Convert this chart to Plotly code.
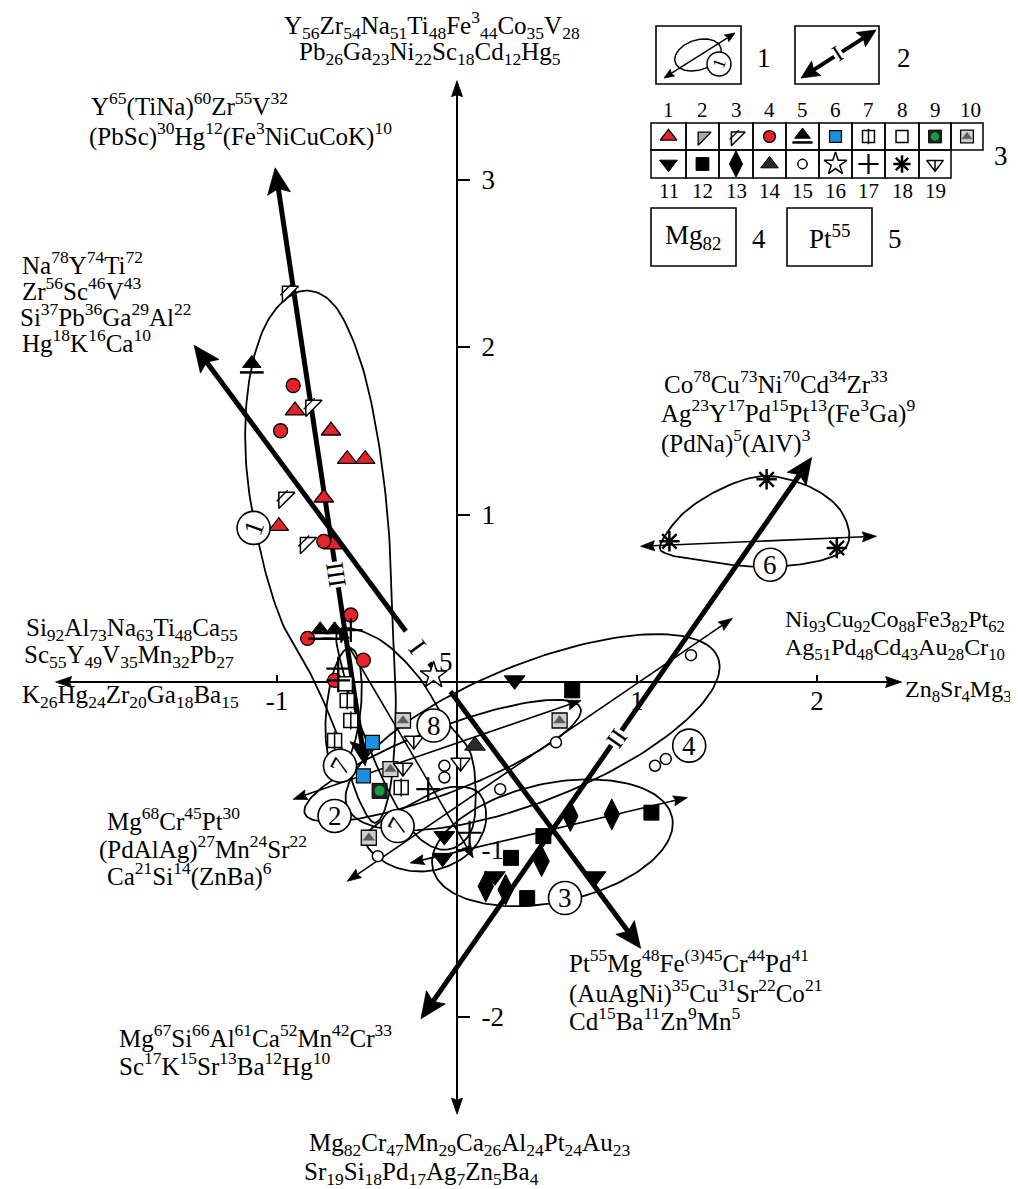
import math
import numpy as np
import plotly.graph_objects as go

# ---------------- canvas / scale geometry ----------------
W, H = 1018, 1189
X0, Y0 = 449.0, 674.0      # pixel position of the origin
SX, SY = 180.0, 167.5      # pixels per unit (x, y)
SERIF = "Liberation Serif, 'Times New Roman', Times, 'DejaVu Serif', serif"
XR = [-X0 / SX, (W - X0) / SX]
YR = [(Y0 - H) / SY, Y0 / SY]

# ---------------- data (factor-score units) ----------------
x_axis_ends = [-2.23, 2.47]
y_axis_ends = [-2.58, 3.59]
x_tickvals = [-1, 1, 2]
x_ticktext = ["-1", "1", "2"]
y_tickvals = [-2, -1, 1, 2, 3]
y_ticktext = ["-2", "-1", "1", "2", "3"]

# point groups (legend numbers 1..19)
g1_x = [-0.90, -0.70, -0.61, -0.51, -0.74, -0.99, -0.69]
g1_y = [1.62, 1.50, 1.33, 1.33, 1.10, 0.93, 0.82]
g3_x = [-0.94, -0.81, -0.96, -0.84]
g3_y = [2.33, 1.65, 1.10, 0.83]
g4_x = [-0.91, -0.98, -0.74, -0.59, -0.83, -0.52, -0.68]
g4_y = [1.77, 1.50, 0.84, 0.40, 0.26, 0.13, 0.01]
g5_x = [-1.14, -0.76, -0.68]
g5_y = [1.89, 0.30, 0.30]
g6_x = [-0.47, -0.52]
g6_y = [-0.36, -0.56]
g7_x = [-0.61, -0.59, -0.68, -0.31]
g7_y = [-0.11, -0.23, -0.35, -0.63]
g8_x = [-0.62]
g8_y = [-0.01]
g9_x = [-0.43]
g9_y = [-0.65]
g10_x = [-0.30, -0.37, -0.49, 0.57]
g10_y = [-0.23, -0.52, -0.93, -0.23]
g11_x = [0.32, -0.07, -0.08, 0.21, 0.77]
g11_y = [0.01, -0.92, -1.05, -1.16, -1.16]
g12_x = [0.64, 0.48, 0.30, 1.08, 0.39]
g12_y = [-0.05, -0.92, -1.05, -0.78, -1.29]
g13_x = [0.63, 0.86, 0.47, 0.16, 0.27]
g13_y = [-0.80, -0.79, -1.07, -1.22, -1.24]
g14_x = [0.10]
g14_y = [-0.38]
g15_x = [-0.07, -0.07, 0.24, 0.55, 1.10, 1.16, 1.30, -0.44]
g15_y = [-0.50, -0.57, -0.64, -0.36, -0.50, -0.46, 0.16, -1.04]
g16_x = [-0.13]
g16_y = [0.04]
g17_x = [-0.59, -0.66, -0.66, -0.16, 0.07]
g17_y = [0.31, 0.08, 0.01, -0.64, -0.90]
g18_x = [1.18, 2.11, 1.72]
g18_y = [0.84, 0.80, 1.21]
g19_x = [-0.24, -0.30, 0.02]
g19_y = [-0.35, -0.51, -0.48]

# main vectors I, II, III (tip to tip)
vec_names = ["I", "II", "III"]
vec_xa = [-1.46, 1.97, -1.01]
vec_ya = [2.01, 1.34, 3.07]
vec_xb = [1.02, -0.20, -0.51]
vec_yb = [-1.59, -2.01, -0.50]

# thin axes of the fields (tip to tip)
fax_xa = [-0.91, -0.26, -0.61, 1.02, -0.66]
fax_ya = [-0.70, -1.08, -1.19, 0.81, 0.32]
fax_xb = [0.69, 1.28, 1.53, 2.33, 0.09]
fax_yb = [-0.11, -0.69, 0.38, 0.87, -1.05]

# field outlines read as point loops
ell1_x = [-0.88, -0.69, -0.54, -0.44, -0.38, -0.36, -0.34, -0.37, -0.45, -0.55, -0.66, -0.80, -0.97, -1.09, -1.17, -1.16, -1.06]
ell1_y = [2.33, 2.26, 1.93, 1.46, 0.92, 0.38, -0.16, -0.63, -0.84, -0.69, -0.33, 0.02, 0.35, 0.77, 1.28, 1.76, 2.14]
ell6_x = [1.13, 1.26, 1.48, 1.71, 1.95, 2.12, 2.18, 2.11, 1.89, 1.62, 1.34, 1.18]
ell6_y = [0.82, 1.01, 1.16, 1.23, 1.17, 1.04, 0.87, 0.76, 0.70, 0.69, 0.73, 0.76]
ell8_x = [-0.66, -0.44, -0.22, -0.07, 0.08, 0.10, 0.04, -0.09, -0.24, -0.39, -0.54, -0.63]
ell8_y = [0.31, 0.26, 0.04, -0.22, -0.44, -0.79, -0.95, -1.00, -0.90, -0.63, -0.25, 0.05]
ell7b_x = [-0.51, -0.45, -0.30, -0.11, 0.07, 0.16, 0.12, -0.05, -0.24, -0.41]
ell7b_y = [-0.93, -1.04, -1.12, -1.12, -1.02, -0.84, -0.66, -0.63, -0.72, -0.82]
# elliptic fields: centre x, centre y, semi-axes (x units), tilt (deg)
ell_cx = [-0.08, 0.53, 0.42, -0.63]
ell_cy = [-0.47, -0.96, -0.30, -0.16]
ell_a = [0.82, 0.68, 1.11, 0.34]
ell_b = [0.18, 0.33, 0.38, 0.095]
ell_tilt = [21, 12, 22, 84]

# circled field numbers
fld_text = ["1", "2", "3", "4", "6", "7", "7", "8"]
fld_x = [-1.13, -0.68, 0.60, 1.29, 1.74, -0.65, -0.33, -0.13]
fld_y = [0.92, -0.80, -1.29, -0.38, 0.70, -0.50, -0.86, -0.26]
fld_rot = [-70, 0, 0, 0, 0, -62, -62, 0]

# ---------------- helpers ----------------
fig = go.Figure()
annotations = []
shapes = []


def px_of(x, y):
    return X0 + x * SX, Y0 - y * SY


def u_of(px, py):
    return (px - X0) / SX, (Y0 - py) / SY


def conv(lx, ly):
    xs, ys = [], []
    for a, b in zip(lx, ly):
        if a is None:
            xs.append(None); ys.append(None)
        else:
            x, y = u_of(a, b); xs.append(x); ys.append(y)
    return xs, ys


def add_path(xs, ys, width):
    fig.add_trace(go.Scatter(x=xs, y=ys, mode="lines", line=dict(color="black", width=width),
                             hoverinfo="skip"))


def closed_curve(xs, ys, k=14):
    P = np.array([px_of(x, y) for x, y in zip(xs, ys)])
    n = len(P)
    out = []
    for i in range(n):
        p0, p1, p2, p3 = P[i - 1], P[i], P[(i + 1) % n], P[(i + 2) % n]
        for t in np.linspace(0, 1, k, endpoint=False):
            out.append(0.5 * (2 * p1 + (p2 - p0) * t + (2 * p0 - 5 * p1 + 4 * p2 - p3) * t * t
                              + (3 * p1 - p0 - 3 * p2 + p3) * t ** 3))
    out.append(out[0])
    out = np.array(out)
    return list((out[:, 0] - X0) / SX), list((Y0 - out[:, 1]) / SY)


def ellipse(cx, cy, a, b, ang, n=160):
    cpx, cpy = px_of(cx, cy)
    t = np.linspace(0, 2 * np.pi, n)
    A, B = a * SX, b * SX
    c, s = math.cos(math.radians(ang)), math.sin(math.radians(ang))
    ex, ey = A * np.cos(t), B * np.sin(t)
    px = cpx + ex * c - ey * s
    py = cpy - (ex * s + ey * c)
    return list((px - X0) / SX), list((Y0 - py) / SY)


def arrow(x0, y0, x1, y1, width, L, Wd, notch, heads=(True, True), segs=((0.0, 1.0),)):
    pa = np.array(px_of(x0, y0)); pb = np.array(px_of(x1, y1))
    d = pb - pa
    length = float(np.hypot(d[0], d[1]))
    u = d / length
    nv = np.array([-u[1], u[0]])
    lo = (L - notch) / length if heads[0] else 0.0
    hi = 1.0 - (L - notch) / length if heads[1] else 1.0
    lx, ly = [], []
    for f0, f1 in segs:
        f0, f1 = max(f0, lo), min(f1, hi)
        if f1 <= f0:
            continue
        for f in (f0, f1):
            p = pa + d * f
            lx.append(p[0]); ly.append(p[1])
        lx.append(None); ly.append(None)
    add_path(*conv(lx, ly), width)
    hx, hy = [], []
    for on, tip, dv in ((heads[0], pa, -u), (heads[1], pb, u)):
        if not on:
            continue
        base = tip - dv * L
        for p in (tip, base + nv * Wd, tip - dv * (L - notch), base - nv * Wd, tip):
            hx.append(p[0]); hy.append(p[1])
        hx.append(None); hy.append(None)
    if hx:
        xs, ys = conv(hx, hy)
        fig.add_trace(go.Scatter(x=xs, y=ys, mode="lines", fill="toself", fillcolor="black",
                                 line=dict(color="black", width=0.8), hoverinfo="skip"))


def text_px(px, py, s, size=25, anchor="left", angle=0, bg=None, lift=0):
    annotations.append(dict(x=px / W, y=1 - py / H, xref="paper", yref="paper", text=s,
                            showarrow=False, xanchor=anchor, yanchor="middle", textangle=angle,
                            yshift=lift,
                            font=dict(family=SERIF, size=size, color="black"),
                            bgcolor=bg if bg else "rgba(0,0,0,0)", borderpad=0))


def text_u(x, y, s, size=25, angle=0, bg=None):
    annotations.append(dict(x=x, y=y, xref="x", yref="y", text=s, showarrow=False,
                            xanchor="center", yanchor="middle", textangle=angle,
                            font=dict(family=SERIF, size=size, color="black"),
                            bgcolor=bg if bg else "rgba(0,0,0,0)", borderpad=0))


RED, BLUE, GREEN = "#e4232b", "#1c8fe0", "#11a040"
GRAY, DGRAY = "#a8a8a8", "#5c5c5c"
# symbol layers: (symbol, size, fill, line colour, line width, dx px, dy px)
STY = {
    1: [("triangle-up", 17, RED, "black", 1.3, 0, 0)],
    2: [("triangle-nw", 17, GRAY, "black", 1.3, 0, 0)],
    3: [("triangle-nw", 18, "white", "black", 1.5, 0, 0), ("line-ne-open", 11, "black", "black", 1.3, -2, -2)],
    4: [("circle", 14, RED, "black", 1.3, 0, 0)],
    5: [("triangle-up", 16, "black", "black", 1, 0, -2), ("line-ew-open", 17, "black", "black", 2.5, 0, 7)],
    6: [("square", 14, BLUE, "black", 1.3, 0, 0)],
    7: [("square", 14, "white", "black", 1.5, 0, 0), ("line-ns-open", 13, "black", "black", 1.5, 0, 0)],
    8: [("square", 14, "white", "black", 1.5, 0, 0)],
    9: [("square", 15, "#222222", "black", 1, 0, 0), ("circle", 10, GREEN, GREEN, 0, 0, 0)],
    10: [("square", 15, "#cfcfcf", "black", 1.3, 0, 0), ("triangle-up", 10, DGRAY, DGRAY, 0.5, 0, 0)],
    11: [("triangle-down", 18, "black", "black", 1, 0, 0)],
    12: [("square", 15, "black", "black", 1, 0, 0)],
    13: [("diamond-tall", 22, "black", "black", 1, 0, 0)],
    14: [("triangle-up", 18, "#2a2a2a", "black", 1, 0, 0)],
    15: [("circle", 11, "white", "black", 1.5, 0, 0)],
    16: [("star", 20, "white", "black", 1.5, 0, 0)],
    17: [("cross-thin-open", 17, "black", "black", 2.2, 0, 0)],
    18: [("asterisk-open", 17, "black", "black", 2.5, 0, 0)],
    19: [("triangle-down", 17, "white", "black", 1.5, 0, 0), ("line-ns-open", 9, "black", "black", 1.5, 0, 2)],
}


def add_markers(xs, ys, typ, scale=1.0):
    for sym, size, col, lcol, lw, dx, dy in STY[typ]:
        fig.add_trace(go.Scatter(
            x=[x + dx * scale / SX for x in xs], y=[y - dy * scale / SY for y in ys],
            mode="markers", hoverinfo="skip",
            marker=dict(symbol=sym, size=size * scale, color=col, line=dict(color=lcol, width=lw))))


# ---------------- field outlines ----------------
for xs, ys in ((ell1_x, ell1_y), (ell6_x, ell6_y), (ell8_x, ell8_y), (ell7b_x, ell7b_y)):
    add_path(*closed_curve(xs, ys), 1.8)
for i in range(len(ell_cx)):
    add_path(*ellipse(ell_cx[i], ell_cy[i], ell_a[i], ell_b[i], ell_tilt[i]), 1.8)

# thin field axes
for i in range(len(fax_xa)):
    arrow(fax_xa[i], fax_ya[i], fax_xb[i], fax_yb[i], 1.6, 14, 5, 2)

# coordinate axes
arrow(x_axis_ends[0], 0, x_axis_ends[1], 0, 2.0, 16, 5.5, 2)
arrow(0, y_axis_ends[0], 0, y_axis_ends[1], 2.0, 16, 5.5, 2)

# main vectors with their labels
vec_segs = {"I": ((0.0, 0.474), (0.527, 0.547), (0.574, 1.0)), "II": ((0.0, 1.0),), "III": ((0.0, 1.0),)}
vec_lab = {"I": 0.50, "II": 0.50, "III": 0.68}
for i, nm in enumerate(vec_names):
    arrow(vec_xa[i], vec_ya[i], vec_xb[i], vec_yb[i], 5, 26, 11.5, 5, segs=vec_segs[nm])
for i, nm in enumerate(vec_names):
    pa = px_of(vec_xa[i], vec_ya[i]); pb = px_of(vec_xb[i], vec_yb[i])
    ang = math.degrees(math.atan2(pb[1] - pa[1], pb[0] - pa[0]))
    if ang > 90:
        ang -= 180
    if ang <= -90:
        ang += 180
    f = vec_lab[nm]
    lx = vec_xa[i] + (vec_xb[i] - vec_xa[i]) * f
    ly = vec_ya[i] + (vec_yb[i] - vec_ya[i]) * f
    text_u(lx, ly, nm, size=27 if nm == "I" else 25, angle=ang,
           bg=None if nm == "I" else "white")

# ---------------- data points ----------------
groups = [(1, g1_x, g1_y), (3, g3_x, g3_y), (4, g4_x, g4_y), (5, g5_x, g5_y), (6, g6_x, g6_y),
          (7, g7_x, g7_y), (8, g8_x, g8_y), (9, g9_x, g9_y), (10, g10_x, g10_y), (11, g11_x, g11_y),
          (12, g12_x, g12_y), (13, g13_x, g13_y), (14, g14_x, g14_y), (15, g15_x, g15_y),
          (16, g16_x, g16_y), (17, g17_x, g17_y), (18, g18_x, g18_y), (19, g19_x, g19_y)]
for typ, xs, ys in groups:
    add_markers(xs, ys, typ)
text_u(g16_x[0] + 0.07, g16_y[0] + 0.08, "5", size=27)

# circled field numbers
fig.add_trace(go.Scatter(x=fld_x, y=fld_y, mode="markers", hoverinfo="skip",
                         marker=dict(symbol="circle", size=33, color="white",
                                     line=dict(color="black", width=1.6))))
for t, x, y, r in zip(fld_text, fld_x, fld_y, fld_rot):
    text_u(x, y, t, size=27, angle=r)

# ---------------- element labels ----------------
labels = [
    ("Y<sub>56</sub>Zr<sub>54</sub>Na<sub>51</sub>Ti<sub>48</sub>Fe<sup>3</sup><sub>44</sub>Co<sub>35</sub>V<sub>28</sub>", 275, 24, 25),
    ("Pb<sub>26</sub>Ga<sub>23</sub>Ni<sub>22</sub>Sc<sub>18</sub>Cd<sub>12</sub>Hg<sub>5</sub>", 290, 52, 25),
    ("Mg<sub>82</sub>Cr<sub>47</sub>Mn<sub>29</sub>Ca<sub>26</sub>Al<sub>24</sub>Pt<sub>24</sub>Au<sub>23</sub>", 300, 1143, 25),
    ("Sr<sub>19</sub>Si<sub>18</sub>Pd<sub>17</sub>Ag<sub>7</sub>Zn<sub>5</sub>Ba<sub>4</sub>", 295, 1172, 25),
    ("Ni<sub>93</sub>Cu<sub>92</sub>Co<sub>88</sub>Fe3<sub>82</sub>Pt<sub>62</sub>", 776, 620, 24),
    ("Ag<sub>51</sub>Pd<sub>48</sub>Cd<sub>43</sub>Au<sub>28</sub>Cr<sub>10</sub>", 776, 648, 24),
    ("Zn<sub>8</sub>Sr<sub>4</sub>Mg<sub>3</sub>", 896, 690, 24),
    ("Si<sub>92</sub>Al<sub>73</sub>Na<sub>63</sub>Ti<sub>48</sub>Ca<sub>55</sub>", 17, 628, 25),
    ("Sc<sub>55</sub>Y<sub>49</sub>V<sub>35</sub>Mn<sub>32</sub>Pb<sub>27</sub>", 15, 655, 25),
    ("K<sub>26</sub>Hg<sub>24</sub>Zr<sub>20</sub>Ga<sub>18</sub>Ba<sub>15</sub>", 13, 695, 25),
    ("Y<sup>65</sup>(TiNa)<sup>60</sup>Zr<sup>55</sup>V<sup>32</sup>", 82, 103, 25),
    ("(PbSc)<sup>30</sup>Hg<sup>12</sup>(Fe<sup>3</sup>NiCuCoK)<sup>10</sup>", 80, 133, 25),
    ("Na<sup>78</sup>Y<sup>74</sup>Ti<sup>72</sup>", 13, 262, 25),
    ("Zr<sup>56</sup>Sc<sup>46</sup>V<sup>43</sup>", 13, 288, 25),
    ("Si<sup>37</sup>Pb<sup>36</sup>Ga<sup>29</sup>Al<sup>22</sup>", 11, 314, 25),
    ("Hg<sup>18</sup>K<sup>16</sup>Ca<sup>10</sup>", 13, 340, 25),
    ("Co<sup>78</sup>Cu<sup>73</sup>Ni<sup>70</sup>Cd<sup>34</sup>Zr<sup>33</sup>", 655, 381, 25),
    ("Ag<sup>23</sup>Y<sup>17</sup>Pd<sup>15</sup>Pt<sup>13</sup>(Fe<sup>3</sup>Ga)<sup>9</sup>", 652, 410, 25),
    ("(PdNa)<sup>5</sup>(AlV)<sup>3</sup>", 652, 440, 25),
    ("Mg<sup>68</sup>Cr<sup>45</sup>Pt<sup>30</sup>", 98, 818, 25),
    ("(PdAlAg)<sup>27</sup>Mn<sup>24</sup>Sr<sup>22</sup>", 90, 846, 25),
    ("Ca<sup>21</sup>Si<sup>14</sup>(ZnBa)<sup>6</sup>", 98, 873, 25),
    ("Pt<sup>55</sup>Mg<sup>48</sup>Fe<sup>(3)45</sup>Cr<sup>44</sup>Pd<sup>41</sup>", 560, 960, 25),
    ("(AuAgNi)<sup>35</sup>Cu<sup>31</sup>Sr<sup>22</sup>Co<sup>21</sup>", 560, 990, 25),
    ("Cd<sup>15</sup>Ba<sup>11</sup>Zn<sup>9</sup>Mn<sup>5</sup>", 560, 1018, 25),
    ("Mg<sup>67</sup>Si<sup>66</sup>Al<sup>61</sup>Ca<sup>52</sup>Mn<sup>42</sup>Cr<sup>33</sup>", 110, 1035, 25),
    ("Sc<sup>17</sup>K<sup>15</sup>Sr<sup>13</sup>Ba<sup>12</sup>Hg<sup>10</sup>", 110, 1063, 25),
]
for s, px, py, fs in labels:
    text_px(px, py, s, size=fs, lift=7)

# ---------------- legend (top right) ----------------
def rect(x0, y0, x1, y1, lw=1.6):
    shapes.append(dict(type="rect", xref="paper", yref="paper", x0=x0 / W, x1=x1 / W,
                       y0=1 - y1 / H, y1=1 - y0 / H, line=dict(color="black", width=lw),
                       fillcolor="rgba(0,0,0,0)", layer="above"))

# item 1: field outline with axis and number
rect(648, 18, 733, 76)
cx_, cy_ = u_of(690, 47)
add_path(*ellipse(cx_, cy_, 24 / SX, 15 / SX, 18), 1.5)
a0 = u_of(656, 70); a1 = u_of(727, 25)
arrow(a0[0], a0[1], a1[0], a1[1], 1.5, 10, 4, 1.5)
c1 = u_of(711, 56)
fig.add_trace(go.Scatter(x=[c1[0]], y=[c1[1]], mode="markers", hoverinfo="skip",
                         marker=dict(symbol="circle", size=24, color="white", line=dict(color="black", width=1.5))))
text_u(c1[0], c1[1], "1", size=18, angle=-70)
text_px(748, 50, "1", size=27)
# item 2: vector
rect(787, 18, 871, 76)
b0 = u_of(793, 70); b1 = u_of(868, 22)
arrow(b0[0], b0[1], b1[0], b1[1], 4, 18, 8.5, 3)
text_px(830, 46, "I", size=23, anchor="center", angle=-32.6, bg="white")
text_px(888, 50, "2", size=27)
# item 3: symbol table
cols = [643, 678, 711, 745, 778, 811, 844, 877, 911, 943, 975]
for i in range(10):
    rect(cols[i], 115, cols[i + 1], 142, 1.5)
    cxp = (cols[i] + cols[i + 1]) / 2
    mx, my = u_of(cxp, 128.5)
    add_markers([mx], [my], i + 1, scale=0.85)
    text_px(cxp + (3 if i == 9 else 0), 102, str(i + 1), size=21, anchor="center")
for i in range(9):
    rect(cols[i], 142, cols[i + 1], 170, 1.5)
    cxp = (cols[i] + cols[i + 1]) / 2
    mx, my = u_of(cxp, 156)
    add_markers([mx], [my], i + 11, scale=0.85)
    text_px(cxp, 183, str(i + 11), size=21, anchor="center")
text_px(993, 148, "3", size=27, anchor="center")
# items 4 and 5
rect(643, 200, 728, 258)
text_px(685, 229, "Mg<sub>82</sub>", size=27, anchor="center")
text_px(743, 231, "4", size=27)
rect(779, 200, 864, 258)
text_px(821, 229, "Pt<sup>55</sup>", size=27, anchor="center")
text_px(879, 231, "5", size=27)

# ---------------- layout ----------------
tickfont = dict(family=SERIF, size=27, color="black")
fig.update_layout(
    width=W, height=H, margin=dict(l=0, r=0, t=0, b=0, pad=0),
    paper_bgcolor="white", plot_bgcolor="white", showlegend=False,
    font=dict(family=SERIF, color="black"),
    annotations=annotations, shapes=shapes,
    xaxis=dict(range=XR, showgrid=False, zeroline=False, showline=False,
               tickmode="array", tickvals=x_tickvals, ticktext=x_ticktext,
               ticks="inside", ticklen=7, tickwidth=2, tickcolor="black", tickfont=tickfont,
               anchor="free", position=1 - Y0 / H, automargin=False, fixedrange=True),
    yaxis=dict(range=YR, showgrid=False, zeroline=False, showline=False,
               tickmode="array", tickvals=y_tickvals, ticktext=y_ticktext,
               ticks="outside", ticklen=12, tickwidth=2, tickcolor="black", tickfont=tickfont,
               anchor="free", position=X0 / W, side="right", ticklabelstandoff=6,
               automargin=False, fixedrange=True),
)

fig.write_html("out.html")
